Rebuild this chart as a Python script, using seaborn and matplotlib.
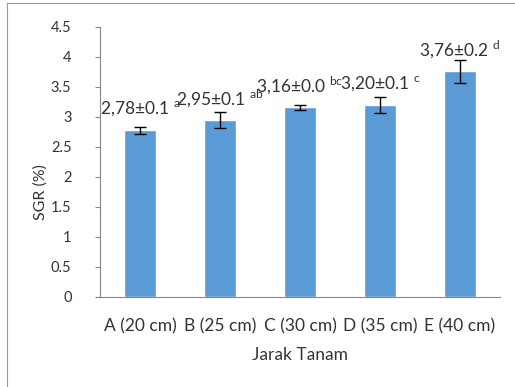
import matplotlib
matplotlib.use("Agg")
import matplotlib.pyplot as plt
import matplotlib.ticker as mticker
import seaborn as sns
import pandas as pd

# data
categories = ["A (20 cm)", "B (25 cm)", "C (30 cm)", "D (35 cm)", "E (40 cm)"]
sgr = [2.78, 2.95, 3.16, 3.20, 3.76]
sgr_err = [0.06, 0.14, 0.04, 0.13, 0.19]
value_labels = ["2,78±0.1", "2,95±0.1", "3,16±0.0", "3,20±0.1", "3,76±0.2"]
letters = ["a", "ab", "bc", "c", "d"]

df = pd.DataFrame({"jarak": categories, "sgr": sgr})

sns.set_style("white")
plt.rcParams["font.family"] = ["Lato", "DejaVu Sans"]
plt.rcParams["mathtext.fontset"] = "custom"
plt.rcParams["mathtext.rm"] = "Lato"

TEXT = "#333333"
AXIS = "#868686"
BAR = "#5B9BD5"

fig = plt.figure(figsize=(5.15, 3.87), dpi=100)
ax = fig.add_axes([100 / 515, 1 - 297 / 387, 400 / 515, 270 / 387])

sns.barplot(data=df, x="jarak", y="sgr", color=BAR, width=0.4,
            saturation=1, errorbar=None, ax=ax)
ax.errorbar(range(len(sgr)), sgr, yerr=sgr_err, fmt="none",
            ecolor="black", elinewidth=1, capsize=4, capthick=1)

for i, (v, lbl, sup) in enumerate(zip(sgr, value_labels, letters)):
    ax.annotate(lbl + " " + r"$^{\mathregular{" + sup + "}}$", (i, v),
                xytext=(0, 11), textcoords="offset points",
                ha="center", va="baseline", fontsize=12.5, color=TEXT)

ax.set_ylim(0, 4.5)
ax.set_xlim(-0.5, 4.5)
ax.yaxis.set_major_locator(mticker.MultipleLocator(0.5))
ax.yaxis.set_major_formatter(mticker.FormatStrFormatter("%g"))

for side in ["top", "right"]:
    ax.spines[side].set_visible(False)
ax.spines["left"].set_color(AXIS)
ax.spines["bottom"].set_color(AXIS)
ax.spines["left"].set_linewidth(0.8)
ax.spines["bottom"].set_linewidth(0.8)

ax.tick_params(axis="y", left=True, length=3.5, width=0.8, color=AXIS,
               pad=17, labelsize=10.5, labelcolor=TEXT)
ax.tick_params(axis="x", bottom=False, pad=12, labelsize=12.5, labelcolor=TEXT)

ax.set_xlabel("Jarak Tanam", fontsize=12.5, color=TEXT)
ax.set_ylabel("SGR (%)", fontsize=11.5, color=TEXT)
ax.xaxis.set_label_coords(0.5, -0.185)
ax.yaxis.set_label_coords(-0.13, 0.39)

# thin grey frame at the top and left of the picture
fig.add_artist(plt.Line2D([7 / 515, 1], [1 - 3 / 387, 1 - 3 / 387],
                          color="#999999", lw=0.8))
fig.add_artist(plt.Line2D([7 / 515, 7 / 515], [0, 1 - 3 / 387],
                          color="#999999", lw=0.8))

fig.savefig("out.png", dpi=100)
